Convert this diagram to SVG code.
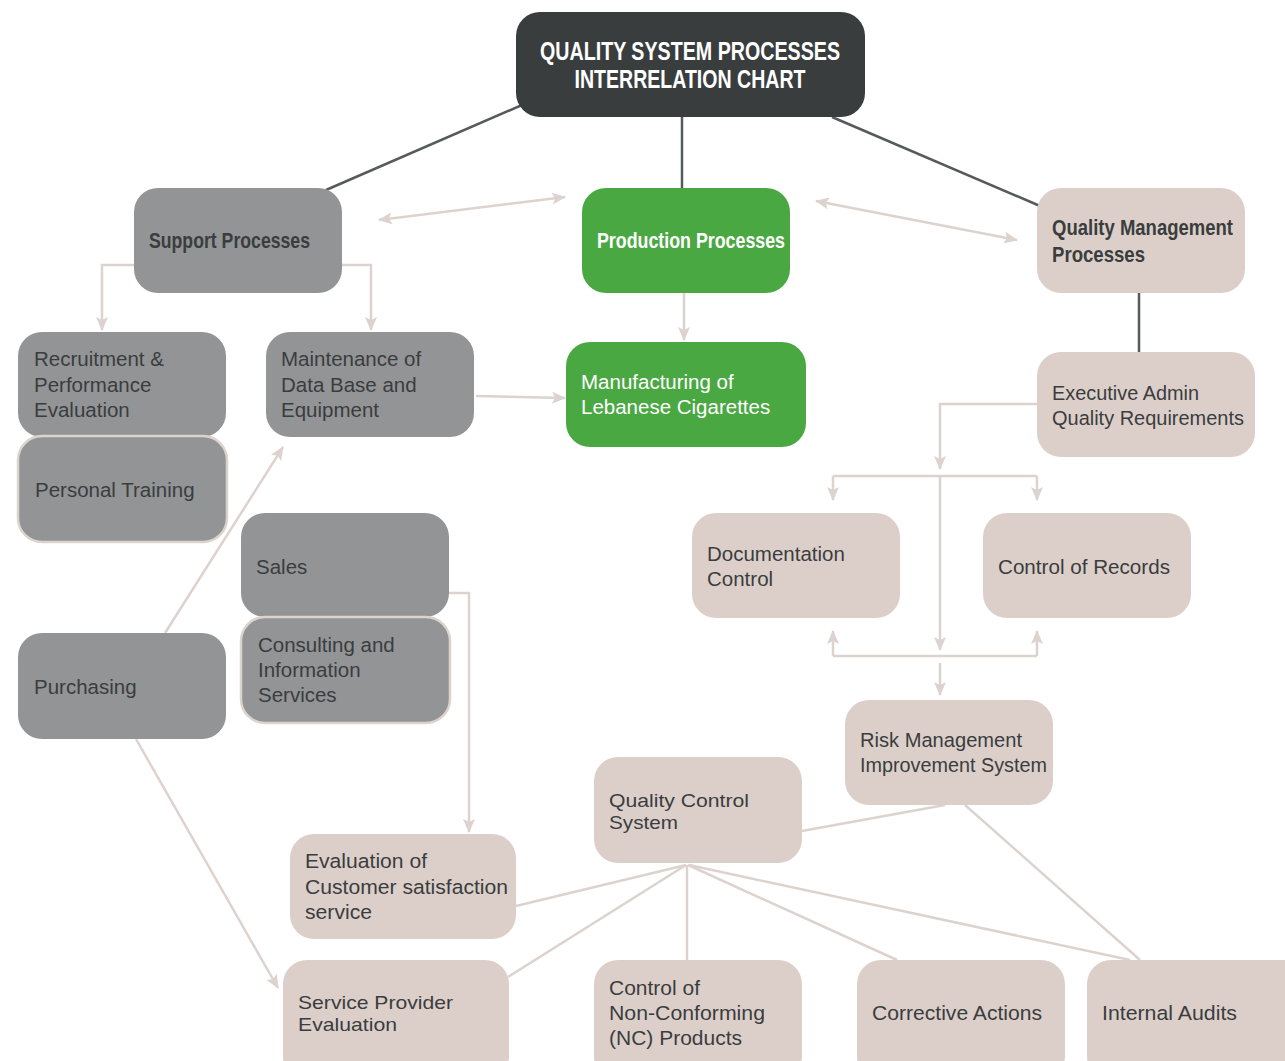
<svg xmlns="http://www.w3.org/2000/svg" width="1285" height="1061" viewBox="0 0 1285 1061">
<defs>
<marker id="ah" markerUnits="userSpaceOnUse" markerWidth="14" markerHeight="12" refX="13" refY="6" orient="auto-start-reverse">
<path d="M0,0 L14,6 L0,12 L3,6 Z" fill="#ddd3ce"/>
</marker>
<style>
.gray{fill:#939495}
.beige{fill:#dccfca}
.green{fill:#4aa843}
.dark{fill:#3a3d3e}
.bord{stroke:#ddd3ce;stroke-width:2.5}
.t{font-family:"Liberation Sans",Arial,sans-serif;font-size:20.5px;fill:#3a3d3e}
.ts{font-family:"Liberation Sans",Arial,sans-serif;font-size:18.5px;fill:#3a3d3e}
.tw{font-family:"Liberation Sans",Arial,sans-serif;font-size:20.5px;fill:#ffffff}
.b{font-family:"Liberation Sans",Arial,sans-serif;font-weight:bold;font-size:22px;fill:#3a3d3e}
.bw{font-family:"Liberation Sans",Arial,sans-serif;font-weight:bold;font-size:22px;fill:#ffffff}
.title{font-family:"Liberation Sans",Arial,sans-serif;font-weight:bold;font-size:25px;fill:#ffffff}
.lc{fill:none;stroke:#ddd3ce;stroke-width:2.5}
.dc{fill:none;stroke:#555a5c;stroke-width:2.5}
</style>
</defs>
<rect width="1285" height="1061" fill="#ffffff"/>

<g id="connectors">
<line class="dc" x1="522" y1="105" x2="326" y2="190"/>
<line class="dc" x1="682" y1="117" x2="682" y2="188"/>
<line class="dc" x1="832" y1="117" x2="1040" y2="206"/>
<line class="dc" x1="1139" y1="293" x2="1139" y2="352"/>
<line class="lc" x1="379" y1="220" x2="565" y2="197" marker-start="url(#ah)" marker-end="url(#ah)"/>
<line class="lc" x1="816" y1="201" x2="1017" y2="240" marker-start="url(#ah)" marker-end="url(#ah)"/>
<polyline class="lc" points="134,265 102,265 102,330" marker-end="url(#ah)"/>
<polyline class="lc" points="342,265 371,265 371,330" marker-end="url(#ah)"/>
<line class="lc" x1="684" y1="293" x2="684" y2="340" marker-end="url(#ah)"/>
<line class="lc" x1="476" y1="396" x2="565" y2="398" marker-end="url(#ah)"/>
<polyline class="lc" points="1037,404 940,404 940,469" marker-end="url(#ah)"/>
<polyline class="lc" points="833,476 1037,476"/>
<line class="lc" x1="833" y1="476" x2="833" y2="500" marker-end="url(#ah)"/>
<line class="lc" x1="1037" y1="476" x2="1037" y2="500" marker-end="url(#ah)"/>
<line class="lc" x1="940" y1="476" x2="940" y2="650" marker-end="url(#ah)"/>
<polyline class="lc" points="833,656 1037,656"/>
<line class="lc" x1="833" y1="656" x2="833" y2="631" marker-end="url(#ah)"/>
<line class="lc" x1="1037" y1="656" x2="1037" y2="631" marker-end="url(#ah)"/>
<line class="lc" x1="940" y1="663" x2="940" y2="695" marker-end="url(#ah)"/>
<polyline class="lc" points="449,593 469,593 469,832" marker-end="url(#ah)"/>
<line class="lc" x1="165" y1="633" x2="283" y2="447" marker-end="url(#ah)"/>
<line class="lc" x1="136" y1="739" x2="278" y2="988" marker-end="url(#ah)"/>
<line class="lc" x1="686" y1="865" x2="516" y2="906"/>
<line class="lc" x1="686" y1="865" x2="508" y2="977"/>
<line class="lc" x1="687" y1="865" x2="687" y2="960"/>
<line class="lc" x1="688" y1="865" x2="897" y2="960"/>
<line class="lc" x1="689" y1="865" x2="1130" y2="960"/>
<line class="lc" x1="945" y1="805" x2="802" y2="831"/>
<line class="lc" x1="965" y1="805" x2="1140" y2="960"/>
</g>

<g id="title">
<rect class="dark" x="516" y="12" width="349" height="105" rx="24"/>
<text class="title" x="690" y="60" text-anchor="middle" textLength="300" lengthAdjust="spacingAndGlyphs">QUALITY SYSTEM PROCESSES</text>
<text class="title" x="690" y="88" text-anchor="middle" textLength="231" lengthAdjust="spacingAndGlyphs">INTERRELATION CHART</text>
</g>

<g id="support">
<rect class="gray" x="134" y="188" width="208" height="105" rx="24"/>
<text class="b" x="149" y="248" textLength="161" lengthAdjust="spacingAndGlyphs">Support Processes</text>
</g>

<g id="production">
<rect class="green" x="582" y="188" width="208" height="105" rx="24"/>
<text class="bw" x="597" y="248" textLength="188" lengthAdjust="spacingAndGlyphs">Production Processes</text>
</g>

<g id="qm">
<rect class="beige" x="1037" y="188" width="208" height="105" rx="24"/>
<text class="b" x="1052" y="235" textLength="181" lengthAdjust="spacingAndGlyphs">Quality Management</text>
<text class="b" x="1052" y="262" textLength="93" lengthAdjust="spacingAndGlyphs">Processes</text>
</g>

<g id="recruitment">
<rect class="gray" x="18" y="332" width="208" height="105" rx="24"/>
<text class="t" x="34" y="366">Recruitment &amp;</text>
<text class="t" x="34" y="392">Performance</text>
<text class="t" x="34" y="417">Evaluation</text>
</g>

<g id="training">
<rect class="gray bord" x="18" y="436" width="209" height="106" rx="24"/>
<text class="t" x="35" y="497">Personal Training</text>
</g>

<g id="maintenance">
<rect class="gray" x="266" y="332" width="208" height="105" rx="24"/>
<text class="t" x="281" y="366">Maintenance of</text>
<text class="t" x="281" y="392">Data Base and</text>
<text class="t" x="281" y="417">Equipment</text>
</g>

<g id="manufacturing">
<rect class="green" x="566" y="342" width="240" height="105" rx="24"/>
<text class="tw" x="581" y="389">Manufacturing of</text>
<text class="tw" x="581" y="414">Lebanese Cigarettes</text>
</g>

<g id="executive">
<rect class="beige" x="1037" y="352" width="218" height="105" rx="24"/>
<text class="t" x="1052" y="400" textLength="147" lengthAdjust="spacingAndGlyphs">Executive Admin</text>
<text class="t" x="1052" y="425" textLength="192" lengthAdjust="spacingAndGlyphs">Quality Requirements</text>
</g>

<g id="documentation">
<rect class="beige" x="692" y="513" width="208" height="105" rx="24"/>
<text class="t" x="707" y="561">Documentation</text>
<text class="t" x="707" y="586">Control</text>
</g>

<g id="records">
<rect class="beige" x="983" y="513" width="208" height="105" rx="24"/>
<text class="t" x="998" y="574" textLength="172" lengthAdjust="spacingAndGlyphs">Control of Records</text>
</g>

<g id="sales">
<rect class="gray" x="241" y="513" width="208" height="104" rx="24"/>
<text class="t" x="256" y="574">Sales</text>
</g>

<g id="consulting">
<rect class="gray bord" x="241" y="617" width="209" height="106" rx="24"/>
<text class="t" x="258" y="652">Consulting and</text>
<text class="t" x="258" y="677">Information</text>
<text class="t" x="258" y="702">Services</text>
</g>

<g id="purchasing">
<rect class="gray" x="18" y="633" width="208" height="106" rx="24"/>
<text class="t" x="34" y="694">Purchasing</text>
</g>

<g id="risk">
<rect class="beige" x="845" y="700" width="208" height="105" rx="24"/>
<text class="t" x="860" y="747" textLength="162" lengthAdjust="spacingAndGlyphs">Risk Management</text>
<text class="t" x="860" y="772" textLength="187" lengthAdjust="spacingAndGlyphs">Improvement System</text>
</g>

<g id="qcs">
<rect class="beige" x="594" y="757" width="208" height="106" rx="24"/>
<text class="ts" x="609" y="807" textLength="140" lengthAdjust="spacingAndGlyphs">Quality Control</text>
<text class="ts" x="609" y="829" textLength="69" lengthAdjust="spacingAndGlyphs">System</text>
</g>

<g id="customer">
<rect class="beige" x="290" y="834" width="226" height="105" rx="24"/>
<text class="t" x="305" y="868" textLength="122" lengthAdjust="spacingAndGlyphs">Evaluation of</text>
<text class="t" x="305" y="894" textLength="203" lengthAdjust="spacingAndGlyphs">Customer satisfaction</text>
<text class="t" x="305" y="919" textLength="67" lengthAdjust="spacingAndGlyphs">service</text>
</g>

<g id="serviceprovider">
<rect class="beige" x="283" y="960" width="226" height="120" rx="24"/>
<text class="ts" x="298" y="1009" textLength="155" lengthAdjust="spacingAndGlyphs">Service Provider</text>
<text class="ts" x="298" y="1031" textLength="99" lengthAdjust="spacingAndGlyphs">Evaluation</text>
</g>

<g id="nc">
<rect class="beige" x="594" y="960" width="208" height="120" rx="24"/>
<text class="t" x="609" y="995" textLength="91" lengthAdjust="spacingAndGlyphs">Control of</text>
<text class="t" x="609" y="1020" textLength="156" lengthAdjust="spacingAndGlyphs">Non-Conforming</text>
<text class="t" x="609" y="1045" textLength="133" lengthAdjust="spacingAndGlyphs">(NC) Products</text>
</g>

<g id="corrective">
<rect class="beige" x="857" y="960" width="208" height="120" rx="24"/>
<text class="t" x="872" y="1020" textLength="170" lengthAdjust="spacingAndGlyphs">Corrective Actions</text>
</g>

<g id="audits">
<rect class="beige" x="1087" y="960" width="220" height="120" rx="24"/>
<text class="t" x="1102" y="1020" textLength="135" lengthAdjust="spacingAndGlyphs">Internal Audits</text>
</g>
</svg>
